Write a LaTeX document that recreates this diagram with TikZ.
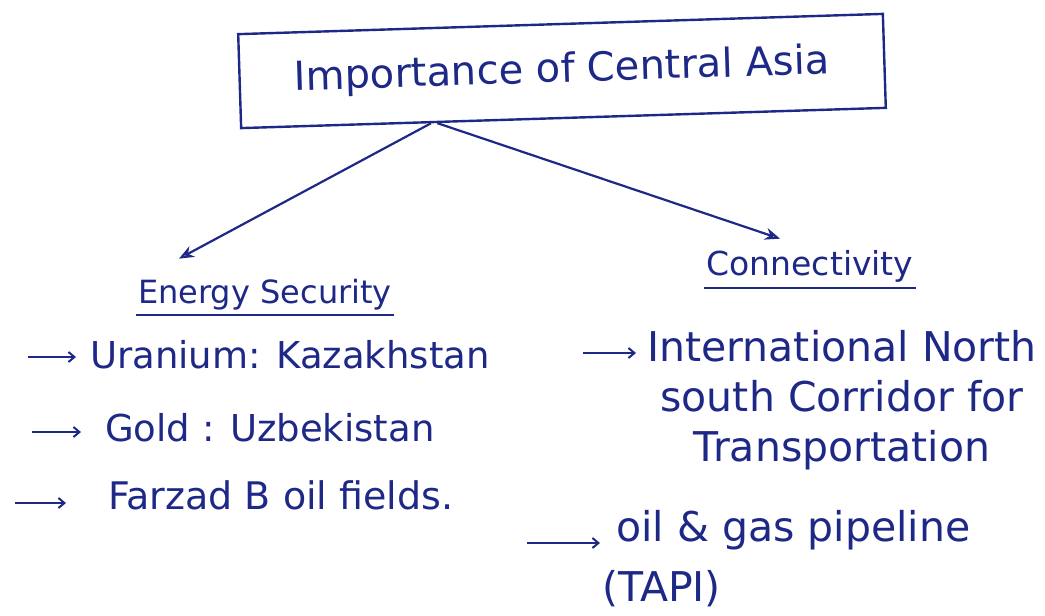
\documentclass[tikz,border=0pt]{standalone}
\usepackage{fontspec}
\setmainfont{DejaVu Sans}
\usetikzlibrary{arrows.meta,calc}
\definecolor{ink}{RGB}{30,40,135}
\newcommand{\fs}[1]{\fontsize{#1}{50}\selectfont}
\tikzset{
  txt/.style={text=ink, inner sep=2pt},
  bigarrow/.style={draw=ink, line width=2.2pt, -{Stealth[length=15pt,width=12pt,open]}},
  itemarrow/.style={draw=ink, line width=2pt, -{Straight Barb[length=6pt,width=10pt]}},
  uline/.style={draw=ink, line width=2pt}
}
\begin{document}
\begin{tikzpicture}[x=1pt,y=-1pt]
\useasboundingbox[fill=white] (0,0) rectangle (1045,616);
% title
\node[txt, draw=ink, line width=2.4pt, minimum width=645pt, minimum height=94pt, rotate=1.8,
      font=\fs{40}] (title) at (562,71) {Importance of Central Asia};
\coordinate (r1) at ($(title.south west)!0.295!(title.south east)$);
\coordinate (r2) at ($(title.south west)!0.305!(title.south east)$);
% headings
\node[txt, font=\fs{32}, anchor=south] (es) at (265,312) {Energy Security};
\node[txt, font=\fs{33}, anchor=south] (cn) at (810,285) {Connectivity};
\draw[uline] ([yshift=-3pt]es.south west) -- ([yshift=-3pt]es.south east);
\draw[uline] ([yshift=-3pt]cn.south west) -- ([yshift=-3pt]cn.south east);
\draw[bigarrow] (r1) -- ([xshift=43pt,yshift=18pt]es.north west);
\draw[bigarrow] (r2) -- ([xshift=-30pt,yshift=10pt]cn.north);
% energy items
\node[txt, font=\fs{37}, anchor=west] (u) at (88,355) {Uranium: Kazakhstan};
\node[txt, font=\fs{37}, anchor=west] (g) at (103,428) {Gold : Uzbekistan};
\node[txt, font=\fs{38}, anchor=west] (f) at (106,495) {Farzad B oil fields.};
\coordinate (ua) at (28,357);
\coordinate (ga) at (32,432);
\coordinate (fa) at (15,503);
\draw[itemarrow, shorten >=12pt] (ua) -- (ua -| u.west);
\draw[itemarrow, shorten >=22pt] (ga) -- (ga -| g.west);
\draw[itemarrow, shorten >=40pt] (fa) -- (fa -| f.west);
% connectivity items
\node[txt, font=\fs{41}, align=center] (ns) at (842,400) {International North\\south Corridor for\\Transportation};
\node[txt, font=\fontsize{41}{60}\selectfont, align=left, anchor=north west] (tp) at (600,508) {\hspace{14pt}oil \& gas pipeline\\(TAPI)};
\coordinate (na) at (583,353);
\coordinate (ta) at (527,543);
\draw[itemarrow] (na) -- (636,353);
\draw[itemarrow] (ta) -- (600,543);
\end{tikzpicture}
\end{document}
